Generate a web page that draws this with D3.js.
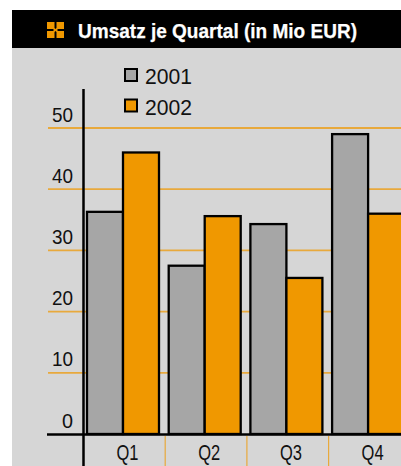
<!DOCTYPE html>
<html>
<head>
<meta charset="utf-8">
<script src="https://cdn.jsdelivr.net/npm/d3@7"></script>
<style>
  html, body { margin: 0; padding: 0; background: #fff; }
  svg { display: block; }
  text { font-family: "Liberation Sans", Arial, sans-serif; fill: #111; }
</style>
</head>
<body>
<svg id="chart" width="401" height="466"></svg>
<script>
const quarters = ["Q1", "Q2", "Q3", "Q4"];
const years = ["2001", "2002"];
const values2001 = [36.3, 27.5, 34.3, 49];
const values2002 = [46, 35.6, 25.5, 36];
const yTicks = [0, 10, 20, 30, 40, 50];
const titleText = "Umsatz je Quartal (in Mio EUR)";

const colors = d3.scaleOrdinal().domain(years).range(["#a6a6a6", "#f09800"]);
const seriesByYear = { "2001": values2001, "2002": values2002 };

const svg = d3.select("#chart");

// Page panels
svg.append("rect").attr("x", 12).attr("y", 48).attr("width", 389).attr("height", 418).attr("fill", "#d6d6d6");
svg.append("rect").attr("x", 12).attr("y", 10).attr("width", 389).attr("height", 38).attr("fill", "#000");

// Title block with the four-cornered emblem
const emblem = svg.append("g").attr("transform", "translate(47,22)").attr("fill", "#f09800");
emblem.append("path").attr("d", "M0 0H7.5V6L8.5 7L9.5 6V0H17V7H11L10 8L11 9H17V16H9.5V10L8.5 9L7.5 10V16H0V9H6L7 8L6 7H0Z");
svg.append("text").attr("x", 78).attr("y", 37.5)
  .attr("font-size", 21).attr("font-weight", "bold")
  .attr("textLength", 279).attr("lengthAdjust", "spacingAndGlyphs")
  .style("fill", "#fff").style("stroke", "#fff").style("stroke-width", 0.25).text(titleText);

// Scales
const y = d3.scaleLinear().domain([0, 50]).range([434, 128]);
const x0 = d3.scaleBand().domain(quarters).range([84, 410.8]);
const x1 = d3.scaleBand().domain(years).range([3, 75]);

// Horizontal guide lines
svg.append("g").selectAll("line").data(yTicks.filter(d => d > 0)).join("line")
  .attr("x1", 48).attr("x2", 401)
  .attr("y1", d => y(d)).attr("y2", d => y(d))
  .attr("stroke", "#e8a93c").attr("stroke-width", 1.8);

// Bars
const groups = svg.append("g").selectAll("g").data(quarters).join("g")
  .attr("transform", d => `translate(${x0(d)},0)`);
groups.selectAll("rect")
  .data(q => years.map(yr => ({ yr, v: seriesByYear[yr][quarters.indexOf(q)] })))
  .join("rect")
  .attr("x", d => x1(d.yr))
  .attr("y", d => y(d.v))
  .attr("width", x1.bandwidth())
  .attr("height", d => y(0) - y(d.v))
  .attr("fill", d => colors(d.yr))
  .attr("stroke", "#000").attr("stroke-width", 2.3);

// Value axis labels sit just above their guide lines
const yAxis = d3.axisLeft(y).tickValues(yTicks).tickSize(0).tickPadding(0);
const yG = svg.append("g").attr("transform", "translate(73,0)").call(yAxis);
yG.select(".domain").remove();
yG.selectAll("text")
  .attr("x", 0).attr("dy", 0).attr("y", -7)
  .attr("font-size", 21).attr("textLength", d => d === 0 ? 11 : 21)
  .attr("lengthAdjust", "spacingAndGlyphs")
  .style("font-family", '"Liberation Sans", Arial, sans-serif');

svg.append("line").attr("x1", 83.5).attr("x2", 83.5).attr("y1", 89).attr("y2", 466)
  .attr("stroke", "#000").attr("stroke-width", 2.5);
svg.append("line").attr("x1", 47).attr("x2", 401).attr("y1", 434.5).attr("y2", 434.5)
  .attr("stroke", "#000").attr("stroke-width", 2.5);

// Category axis: separators between the quarters, labels below
svg.append("g").selectAll("line").data(quarters).join("line")
  .attr("x1", d => x0(d) + x0.bandwidth() - 0.5).attr("x2", d => x0(d) + x0.bandwidth() - 0.5)
  .attr("y1", 436).attr("y2", 466)
  .attr("stroke", "#e8a93c").attr("stroke-width", 1.2);
svg.append("g").selectAll("text").data(quarters).join("text")
  .attr("x", d => x0(d) + 43.5).attr("y", 460)
  .attr("text-anchor", "middle").attr("font-size", 21.5)
  .attr("textLength", 22).attr("lengthAdjust", "spacingAndGlyphs")
  .text(d => d);

// Legend
const legend = svg.append("g").selectAll("g").data(years).join("g")
  .attr("transform", (d, i) => `translate(124,${68 + i * 30.5})`);
legend.append("rect").attr("x", 1).attr("y", 1).attr("width", 12).attr("height", 12)
  .attr("fill", d => colors(d)).attr("stroke", "#000").attr("stroke-width", 2);
legend.append("text").attr("x", 21).attr("y", 16).attr("font-size", 22)
  .attr("textLength", 47).attr("lengthAdjust", "spacingAndGlyphs").text(d => d);
</script>
</body>
</html>
